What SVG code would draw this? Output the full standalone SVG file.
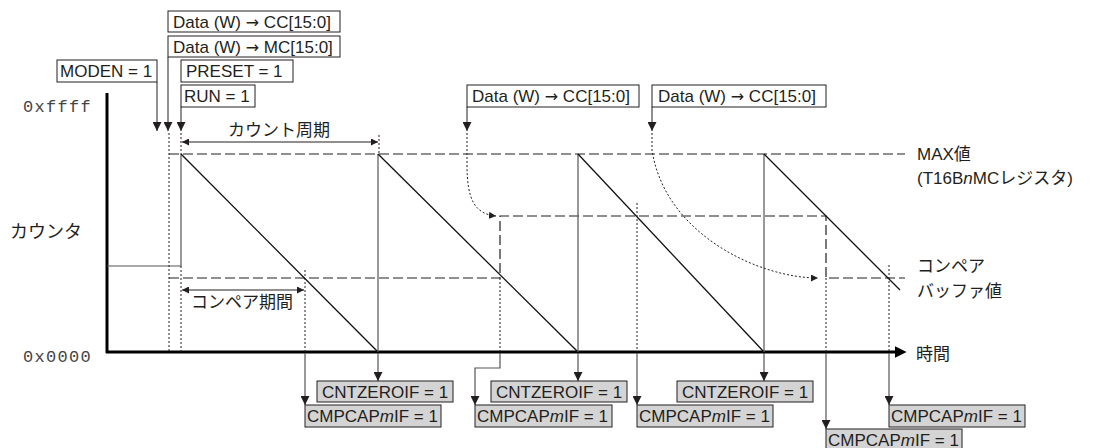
<svg xmlns="http://www.w3.org/2000/svg" width="1100" height="448" viewBox="0 0 1100 448">
<style>
text{font-family:"Liberation Sans","Noto Sans CJK JP",sans-serif;font-size:17px;fill:#231f20}
.arr{font-family:"DejaVu Sans",sans-serif;font-size:16px}
.mono{font-family:"Liberation Mono",monospace;font-size:17px;letter-spacing:1.3px;fill:#444}
.box{fill:#fff;stroke:#231f20;stroke-width:1}
.gbox{fill:#d4d4d4;stroke:#231f20;stroke-width:1}
.ln{fill:none;stroke:#231f20;stroke-width:1}
.gl{fill:none;stroke:#555;stroke-width:1.2}
.diag{fill:none;stroke:#111;stroke-width:1.3}
.dash{fill:none;stroke:#231f20;stroke-width:1.2;stroke-dasharray:10,4}
.dot{fill:none;stroke:#231f20;stroke-width:1;stroke-dasharray:2,2}
.axis{fill:none;stroke:#000;stroke-width:3}
</style>
<defs>
<marker id="ah" viewBox="0 0 10 10" refX="10" refY="5" markerWidth="9" markerHeight="9" markerUnits="userSpaceOnUse" orient="auto"><path d="M0,0 L10,5 L0,10 z" fill="#231f20"/></marker>
<marker id="as" viewBox="0 0 10 10" refX="10" refY="5" markerWidth="7" markerHeight="7" markerUnits="userSpaceOnUse" orient="auto-start-reverse"><path d="M0,0 L10,5 L0,10 z" fill="#231f20"/></marker>
<marker id="ax" viewBox="0 0 10 10" refX="2" refY="5" markerWidth="12" markerHeight="12" markerUnits="userSpaceOnUse" orient="auto"><path d="M0,0 L10,5 L0,10 z" fill="#000"/></marker>
</defs>

<g id="axes">
<line class="axis" x1="107" y1="93" x2="107" y2="353"/>
<line class="axis" x1="106" y1="352" x2="897" y2="352" marker-end="url(#ax)"/>
<text class="mono" x="23" y="112">0xffff</text>
<text class="mono" x="23" y="362">0x0000</text>
<text x="10" y="238" style="font-size:18px">カウンタ</text>
<text x="916" y="360">時間</text>
<text x="917" y="160">MAX値</text>
<text x="917" y="184">(T16B<tspan font-style="italic">n</tspan>MCレジスタ)</text>
<text x="917" y="272">コンペア</text>
<text x="917" y="297">バッファ値</text>
</g>

<g id="reference-lines">
<path class="dash" d="M169,154 H905"/>
<path class="dash" d="M169,278 H500 V216 H826 V278 H905"/>
</g>

<g id="counter">
<path class="gl" d="M107,266 H181 V154"/>
<path class="diag" d="M181,154 L378,352"/>
<path class="gl" d="M378,352 V154"/>
<path class="diag" d="M378,154 L578,352"/>
<path class="gl" d="M578,352 V154"/>
<path class="diag" d="M578,154 L764,352"/>
<path class="gl" d="M764,352 V154"/>
<path class="diag" d="M764,154 L900,290"/>
</g>

<g id="connectors">
<path class="dot" d="M169,133 V352"/>
<path class="dot" d="M181,133 V154 M181,266 V352"/>
<path class="dot" d="M379,135 V154"/>
<path class="dot" d="M305,270 V352"/>
<path class="dot" d="M500,278 V352"/>
<path class="dot" d="M637,203 V352"/>
<path class="dot" d="M826,278 V352"/>
<path class="dot" d="M889,265 V352"/>
<path class="ln" d="M157,82 V131" marker-end="url(#ah)"/>
<path class="ln" d="M168,57 V131" marker-end="url(#ah)"/>
<path class="ln" d="M181,107 V131" marker-end="url(#ah)"/>
<path class="ln" d="M467,107 V131" marker-end="url(#ah)"/>
<path class="ln" d="M652,107 V131" marker-end="url(#ah)"/>
<path class="dot" d="M467,133 V165 C467,200 475,214 496,216" marker-end="url(#as)"/>
<path class="dot" d="M652,133 V150 C665,235 760,278 818,278" marker-end="url(#as)"/>
<path class="ln" d="M182,142 H378" marker-start="url(#as)" marker-end="url(#as)"/>
<path class="ln" d="M182,290 H304" marker-start="url(#as)" marker-end="url(#as)"/>
<path class="gl" d="M378,353 V381" marker-end="url(#ah)"/>
<path class="gl" d="M578,353 V381" marker-end="url(#ah)"/>
<path class="gl" d="M764,353 V381" marker-end="url(#ah)"/>
<path class="gl" d="M305,353 V405" marker-end="url(#ah)"/>
<path class="gl" d="M500,353 V368 H475 V405" marker-end="url(#ah)"/>
<path class="gl" d="M637,353 V405" marker-end="url(#ah)"/>
<path class="gl" d="M826,353 V429" marker-end="url(#ah)"/>
<path class="gl" d="M889,353 V405" marker-end="url(#ah)"/>
<text x="228" y="136">カウント周期</text>
<text x="191" y="308">コンペア期間</text>
</g>

<g id="n-cc1"><rect class="box" x="168" y="11" width="172" height="21"/><text x="173" y="28">Data (W) <tspan class="arr">→</tspan> CC[15:0]</text></g>
<g id="n-mc"><rect class="box" x="168" y="36" width="172" height="21"/><text x="173" y="53">Data (W) <tspan class="arr">→</tspan> MC[15:0]</text></g>
<g id="n-moden"><rect class="box" x="57" y="60" width="100" height="22"/><text x="60" y="77">MODEN = 1</text></g>
<g id="n-preset"><rect class="box" x="181" y="60" width="112" height="22"/><text x="186" y="77">PRESET = 1</text></g>
<g id="n-run"><rect class="box" x="181" y="85" width="74" height="22"/><text x="184" y="102">RUN = 1</text></g>
<g id="n-cc2"><rect class="box" x="467" y="85" width="172" height="22"/><text x="472" y="102">Data (W) <tspan class="arr">→</tspan> CC[15:0]</text></g>
<g id="n-cc3"><rect class="box" x="652" y="85" width="174" height="22"/><text x="658" y="102">Data (W) <tspan class="arr">→</tspan> CC[15:0]</text></g>

<g id="n-cz1"><rect class="gbox" x="317" y="381" width="136" height="21"/><text x="322" y="398">CNTZEROIF = 1</text></g>
<g id="n-cz2"><rect class="gbox" x="491" y="381" width="136" height="21"/><text x="496" y="398">CNTZEROIF = 1</text></g>
<g id="n-cz3"><rect class="gbox" x="677" y="381" width="136" height="21"/><text x="682" y="398">CNTZEROIF = 1</text></g>
<g id="n-cm1"><rect class="gbox" x="305" y="405" width="136" height="22"/><text x="307" y="422">CMPCAP<tspan font-style="italic">m</tspan>IF = 1</text></g>
<g id="n-cm2"><rect class="gbox" x="475" y="405" width="137" height="22"/><text x="477" y="422">CMPCAP<tspan font-style="italic">m</tspan>IF = 1</text></g>
<g id="n-cm3"><rect class="gbox" x="637" y="405" width="136" height="22"/><text x="639" y="422">CMPCAP<tspan font-style="italic">m</tspan>IF = 1</text></g>
<g id="n-cm4"><rect class="gbox" x="826" y="429" width="136" height="22"/><text x="828" y="446">CMPCAP<tspan font-style="italic">m</tspan>IF = 1</text></g>
<g id="n-cm5"><rect class="gbox" x="889" y="405" width="136" height="22"/><text x="891" y="422">CMPCAP<tspan font-style="italic">m</tspan>IF = 1</text></g>
</svg>
